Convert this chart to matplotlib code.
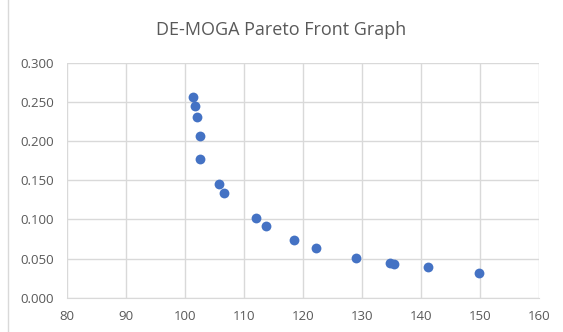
import matplotlib.pyplot as plt
from matplotlib.lines import Line2D

# Pareto front points
cost = [101.4, 101.8, 102.1, 102.55, 102.55, 105.8, 106.6, 112.0, 113.7,
        118.6, 122.3, 129.1, 134.8, 135.4, 141.3, 149.9]
risk = [0.256, 0.245, 0.231, 0.206, 0.177, 0.145, 0.134, 0.102, 0.092,
        0.074, 0.064, 0.051, 0.044, 0.043, 0.039, 0.031]

x_ticks = [80, 90, 100, 110, 120, 130, 140, 150, 160]
y_ticks = [0.0, 0.05, 0.10, 0.15, 0.20, 0.25, 0.30]

plt.rcParams['font.family'] = ['Open Sans', 'DejaVu Sans']
grey = '#595959'
grid = '#D9D9D9'

fig = plt.figure(figsize=(5.63, 3.32), dpi=100)
ax = fig.add_axes([0.1185, 0.1033, 0.957 - 0.1185, 0.811 - 0.1033])

ax.scatter(cost, risk, s=50, color='#4472C4', zorder=3, linewidths=0)

ax.set_xlim(80, 160)
ax.set_ylim(0, 0.3)
ax.set_xticks(x_ticks)
ax.set_yticks(y_ticks)
ax.set_yticklabels([f"{v:.3f}" for v in y_ticks])

ax.grid(True, color=grid, linewidth=1)
ax.set_axisbelow(True)
for side in ['top', 'right', 'left']:
    ax.spines[side].set_visible(False)
ax.spines['bottom'].set_color(grid)
ax.tick_params(length=0, labelsize=9.5, colors=grey, pad=9)

fig.text(0.5, 0.91, "DE-MOGA Pareto Front Graph", ha='center', va='center',
         fontsize=13, color=grey)

# thin border on the left edge, as in the source picture
fig.add_artist(Line2D([0.015, 0.015], [0, 1], color=grid, linewidth=1))

fig.savefig("out.png", dpi=100)
